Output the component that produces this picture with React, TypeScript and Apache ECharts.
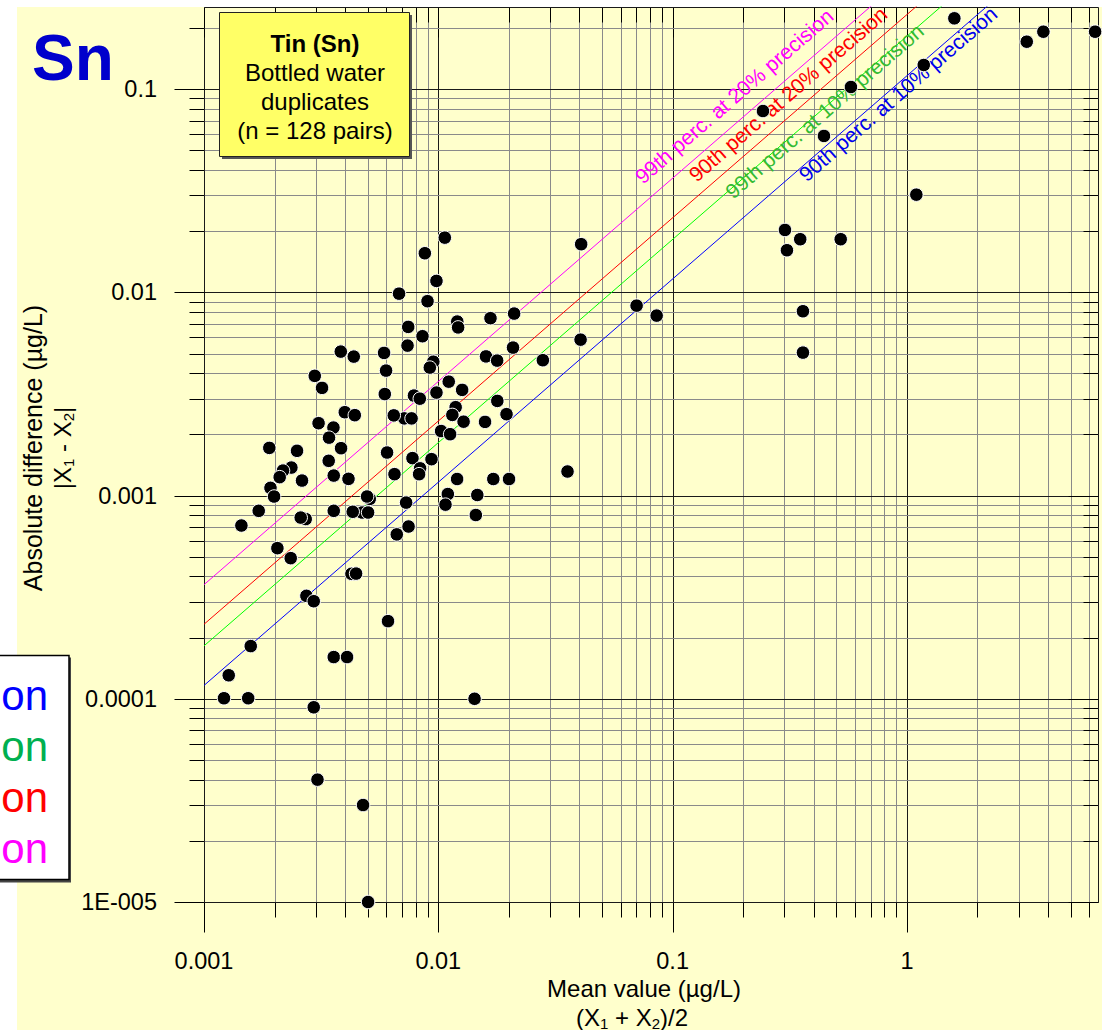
import React, { useEffect, useRef } from 'react';
import * as echarts from 'echarts';

// ---- data (mean value, absolute difference) ----
const meanValues = [
  0.243, 0.577, 0.4426, 1.18, 1.594, 1.097, 3.247, 3.823, 6.357, 0.04071,
  0.0702, 0.0855, 0.04048, 0.0356, 0.3017, 0.3505, 0.3076, 0.5217, 0.36, 0.36,
  0.02794,
  0.01066, 0.00876, 0.00982, 0.0068, 0.008995, 0.02107, 0.0167, 0.01205, 0.01215, 0.00744,
  0.00856, 0.00739, 0.02084, 0.01598, 0.01783, 0.009522, 0.0092, 0.01108, 0.01264, 0.007873,
  0.008337, 0.00982, 0.01786, 0.01186, 0.01148, 0.01282, 0.01955, 0.01583, 0.007159, 0.00769,
  0.01028, 0.01123, 0.007758, 0.009354, 0.008362, 0.00828, 0.01203, 0.01717, 0.02004, 0.01098,
  0.01467, 0.00729, 0.01073, 0.01446, 0.007465, 0.006649,
  0.003835, 0.004357, 0.005869, 0.005985, 0.00297, 0.00319, 0.00591, 0.006457, 0.003989, 0.004401,
  0.003083, 0.003568, 0.003417, 0.003846, 0.0019, 0.002495, 0.006044, 0.006501, 0.004137, 0.00262,
  0.00236, 0.002174, 0.002104, 0.003579, 0.003406, 0.005098, 0.004966, 0.004727, 0.005015, 0.004313,
  0.003579, 0.002717, 0.002587, 0.001922, 0.001991, 0.001712, 0.001444, 0.002057, 0.002345, 0.004259,
  0.004457, 0.002736, 0.00294, 0.0061, 0.001583, 0.001275, 0.001217, 0.001544, 0.01428, 0.00294,
  0.003579, 0.004079, 0.00305, 0.004774, 0.005015,
];
const absDifferences = [
  0.078, 0.1024, 0.0588, 0.1314, 0.223, 0.03024, 0.1711, 0.1916, 0.1916, 0.01725,
  0.0086, 0.00768, 0.00585, 0.001313, 0.02027, 0.01825, 0.01611, 0.01825, 0.00807, 0.00505,
  0.004634,
  0.01858, 0.01557, 0.01138, 0.00985, 0.009043, 0.00786, 0.00746, 0.00718, 0.00672, 0.00676,
  0.00608, 0.005467, 0.005346, 0.004838, 0.004613, 0.004556, 0.004262, 0.003634, 0.003311, 0.003104,
  0.002997, 0.003211, 0.002922, 0.002721, 0.002493, 0.002309, 0.002514, 0.002304, 0.002397, 0.002397,
  0.002077, 0.002004, 0.001528, 0.00151, 0.001361, 0.001274, 0.001206, 0.001206, 0.001206, 0.001017,
  0.001006, 0.000923, 0.000902, 0.000802, 0.000704, 0.000644,
  0.005108, 0.004827, 0.005033, 0.004119, 0.003881, 0.003387, 0.003157, 0.00248, 0.002571, 0.002486,
  0.00227, 0.00216, 0.001927, 0.00171, 0.001716, 0.00166, 0.001628, 0.001274, 0.001208, 0.001185,
  0.001373, 0.001327, 0.001232, 0.001254, 0.001482, 0.000963, 0.000989, 0.000825, 0.000825, 0.000832,
  0.000841, 0.000766, 0.000779, 0.001091, 0.000989, 0.000841, 0.000712, 0.000551, 0.000492, 0.000412,
  0.000413, 0.000321, 0.000302, 0.000241, 0.0001816, 0.0001305, 0.0001006, 0.0001006, 0.0001, 0.0000908,
  0.0001604, 0.0001604, 0.00004, 0.00003, 0.00001,
];

// precision reference lines |X1-X2| = coef * mean
const precisionNames = [
  '90th perc. at 10% precision',
  '99th perc. at 10% precision',
  '90th perc. at 20% precision',
  '99th perc. at 20% precision',
];
const precisionCoef = [0.1163, 0.1821, 0.2326, 0.3643];
const lineXRange = [0.001, 10];
const lineColors = ['#0000FF', '#00FF00', '#FF0000', '#FF00FF'];
const labelColors = ['#0000EE', '#33BB33', '#FF0000', '#FF00FF'];
// where each rotated label starts (x value on its line) and its vertical pixel shift
const labelStartX = [0.3734, 0.1814, 0.1266, 0.0747];
const labelShiftY = [20, 13, -14, -19];

const legendTexts = ['on', 'on', 'on', 'on'];
const legendColors = ['#0000FF', '#00B050', '#FF0000', '#FF00FF'];

const infoLines = ['Tin (Sn)', 'Bottled water', 'duplicates', '(n = 128 pairs)'];

const X_MIN = 0.001;
const X_MAX = 6.54;
const Y_MIN = 1e-5;
const Y_MAX = 0.2535;
const xDecades = [0.001, 0.01, 0.1, 1];
const yDecades = [1e-5, 1e-4, 1e-3, 1e-2, 1e-1];
const multipliers = [1, 2, 3, 4, 5, 6, 7, 8, 9];
const xTickText: Record<string, string> = { '-3': '0.001', '-2': '0.01', '-1': '0.1', '0': '1' };
const yTickText: Record<string, string> = { '-5': '1E-005', '-4': '0.0001', '-3': '0.001', '-2': '0.01', '-1': '0.1' };

const FONT = 'Arial, "Liberation Sans", Helvetica, sans-serif';
const MAJOR = '#1a1a1a';
const MINOR = '#8a8a8a';

function gridValues(decades: number[], max: number) {
  const out: number[][] = [];
  decades.forEach((d) => {
    multipliers.forEach((m) => {
      const v = +(d * m).toPrecision(6);
      if (v <= max * 1.0001) out.push([v, m === 1 ? 1 : 0]);
    });
  });
  return out;
}

function decadeLabel(map: Record<string, string>) {
  return (v: number) => {
    const e = Math.log10(v);
    const r = Math.round(e);
    if (Math.abs(e - r) > 1e-6) return '';
    return map[String(r)] ?? '';
  };
}

export default function App() {
  const ref = useRef<HTMLDivElement>(null);

  useEffect(() => {
    if (!ref.current) return;
    const chart = echarts.init(ref.current, null, { renderer: 'svg' });

    const xGrid = gridValues(xDecades, X_MAX).map(([v, m]) => [v, Y_MIN, m]);
    xGrid.push([X_MAX, Y_MIN, 2]);
    const yGrid = gridValues(yDecades, Y_MAX).map(([v, m]) => [X_MIN, v, m]);
    yGrid.push([X_MIN, Y_MAX, 2]);

    const vLine = (params: any, api: any) => {
      const v = api.value(0);
      const kind = api.value(2);
      const pT = api.coord([v, Y_MAX]);
      const pB = api.coord([v, Y_MIN]);
      const x = Math.round(pT[0]) + 0.5;
      const yT = Math.round(pT[1]) + 0.5;
      const yB = Math.round(pB[1]) + 0.5;
      const children: any[] = [
        { type: 'line', shape: { x1: x, y1: yT, x2: x, y2: yB }, style: { stroke: kind === 0 ? MINOR : MAJOR, lineWidth: 1 } },
      ];
      if (kind !== 2) {
        const len = kind === 1 ? 30 : 15;
        children.push({ type: 'line', shape: { x1: x, y1: yB, x2: x, y2: yB + len }, style: { stroke: '#000', lineWidth: 1 } });
        children.push({ type: 'line', shape: { x1: x, y1: yT, x2: x, y2: yT + len }, style: { stroke: '#000', lineWidth: 1 } });
      }
      return { type: 'group', children };
    };
    const hLine = (params: any, api: any) => {
      const v = api.value(1);
      const kind = api.value(2);
      const pL = api.coord([X_MIN, v]);
      const pR = api.coord([X_MAX, v]);
      const y = Math.round(pL[1]) + 0.5;
      const xL = Math.round(pL[0]) + 0.5;
      const xR = Math.round(pR[0]) + 0.5;
      const children: any[] = [
        { type: 'line', shape: { x1: xL, y1: y, x2: xR, y2: y }, style: { stroke: kind === 0 ? MINOR : MAJOR, lineWidth: 1 } },
      ];
      if (kind !== 2) {
        const len = kind === 1 ? 30 : 15;
        children.push({ type: 'line', shape: { x1: xL - len, y1: y, x2: xL, y2: y }, style: { stroke: '#000', lineWidth: 1 } });
        children.push({ type: 'line', shape: { x1: xR - len, y1: y, x2: xR, y2: y }, style: { stroke: '#000', lineWidth: 1 } });
      }
      return { type: 'group', children };
    };

    const series: any[] = [
      {
        type: 'custom', name: 'vgrid', coordinateSystem: 'cartesian2d', renderItem: vLine,
        data: xGrid, encode: { x: 0, y: 1 }, clip: false, silent: true, z: 1,
      },
      {
        type: 'custom', name: 'hgrid', coordinateSystem: 'cartesian2d', renderItem: hLine,
        data: yGrid, encode: { x: 0, y: 1 }, clip: false, silent: true, z: 1,
      },
    ];
    precisionCoef.forEach((k, i) => {
      series.push({
        type: 'line',
        name: precisionNames[i],
        data: lineXRange.map((x) => [x, x * k]),
        symbol: 'none',
        clip: true,
        lineStyle: { color: lineColors[i], width: 1 },
        z: 3,
        silent: true,
      });
    });
    series.push({
      type: 'scatter',
      name: 'duplicates',
      data: meanValues.map((x, i) => [x, absDifferences[i]]),
      symbol: 'circle',
      symbolSize: 13.5,
      clip: false,
      itemStyle: { color: '#000', borderColor: '#fff', borderWidth: 1, opacity: 1 },
      z: 5,
    });

    chart.setOption({
      animation: false,
      backgroundColor: '#ffffff',
      grid: { left: 204, top: 7, width: 894, height: 895, containLabel: false },
      xAxis: {
        type: 'log', logBase: 10, min: X_MIN, max: X_MAX,
        axisLine: { show: false }, axisTick: { show: false }, splitLine: { show: false },
        axisLabel: {
          formatter: decadeLabel(xTickText), fontSize: 23.5, fontFamily: FONT, color: '#000',
          margin: 47, lineHeight: 24, showMaxLabel: false,
        },
      },
      yAxis: {
        type: 'log', logBase: 10, min: Y_MIN, max: Y_MAX,
        axisLine: { show: false }, axisTick: { show: false }, splitLine: { show: false },
        axisLabel: {
          formatter: decadeLabel(yTickText), fontSize: 23.5, fontFamily: FONT, color: '#000',
          margin: 47, showMaxLabel: false,
        },
      },
      series,
    });

    // rotated labels of the precision lines, placed through the chart's own scale
    const p0 = chart.convertToPixel({ gridIndex: 0 }, [0.01, 0.01]) as number[];
    const p1 = chart.convertToPixel({ gridIndex: 0 }, [0.1, 0.1]) as number[];
    const theta = Math.atan2(p0[1] - p1[1], p1[0] - p0[0]);
    const fsLab = 21;
    const labelGraphics = precisionCoef.map((k, i) => {
      const xv = labelStartX[i];
      const p = chart.convertToPixel({ gridIndex: 0 }, [xv, xv * k]) as number[];
      const bx = p[0];
      const by = p[1] + labelShiftY[i];
      return {
        type: 'text',
        x: bx - 0.35 * fsLab * Math.sin(theta),
        y: by - 0.35 * fsLab * Math.cos(theta),
        rotation: theta,
        z: 4,
        silent: true,
        style: {
          text: precisionNames[i], fontSize: fsLab, fontFamily: FONT, fill: labelColors[i],
          align: 'left', verticalAlign: 'middle',
        },
      };
    });

    const infoGraphics: any[] = [
      { type: 'rect', z: 20, shape: { x: 222, y: 15, width: 190, height: 144 }, style: { fill: '#555' } },
      { type: 'rect', z: 21, shape: { x: 219.5, y: 12.5, width: 190, height: 144 }, style: { fill: '#FFFF66', stroke: '#222', lineWidth: 1 } },
      ...infoLines.map((t, i) => ({
        type: 'text', z: 22, x: 315, y: 43 + i * 29,
        style: {
          text: t, fontSize: 24, fontFamily: FONT, fontWeight: i === 0 ? 'bold' : 'normal',
          fill: '#000', align: 'center', verticalAlign: 'middle',
        },
      })),
    ];

    const legendGraphics: any[] = [
      { type: 'rect', z: 20, shape: { x: -10, y: 657.5, width: 81, height: 225 }, style: { fill: '#444' } },
      { type: 'rect', z: 21, shape: { x: -10, y: 655.5, width: 79, height: 224 }, style: { fill: '#fff', stroke: '#000', lineWidth: 1.5 } },
      ...legendTexts.map((t, i) => ({
        type: 'text', z: 22, x: 48, y: 695 + i * 51,
        style: { text: t, fontSize: 42, fontFamily: FONT, fill: legendColors[i], align: 'right', verticalAlign: 'middle' },
      })),
    ];

    const subRich = { s: { fontSize: 15, fontFamily: FONT, fill: '#000', padding: [12, 0, 0, 0] } };

    chart.setOption({
      graphic: [
        { type: 'rect', z: -1, silent: true, shape: { x: 17, y: 7, width: 1085, height: 1023 }, style: { fill: '#FFFFCC' } },
        {
          type: 'text', z: 22, x: 32, y: 58,
          style: { text: 'Sn', fontSize: 64, fontWeight: 'bold', fontFamily: FONT, fill: '#0000CC', align: 'left', verticalAlign: 'middle' },
        },
        ...infoGraphics,
        ...legendGraphics,
        ...labelGraphics,
        {
          type: 'text', z: 22, x: 644, y: 988,
          style: { text: 'Mean value (µg/L)', fontSize: 24, fontFamily: FONT, fill: '#000', align: 'center', verticalAlign: 'middle' },
        },
        {
          type: 'text', z: 22, x: 632, y: 1017,
          style: {
            text: '(X{s|1} + X{s|2})/2', fontSize: 24, fontFamily: FONT, fill: '#000',
            align: 'center', verticalAlign: 'middle', rich: subRich,
          },
        },
        {
          type: 'text', z: 22, x: 33, y: 448, rotation: Math.PI / 2,
          style: { text: 'Absolute difference (µg/L)', fontSize: 25, fontFamily: FONT, fill: '#000', align: 'center', verticalAlign: 'middle' },
        },
        {
          type: 'text', z: 22, x: 62, y: 448, rotation: Math.PI / 2,
          style: {
            text: '|X{s|1} - X{s|2}|', fontSize: 24, fontFamily: FONT, fill: '#000',
            align: 'center', verticalAlign: 'middle', rich: subRich,
          },
        },
      ],
    });

    return () => {
      chart.dispose();
    };
  }, []);

  return (
    <div
      ref={ref}
      style={{ position: 'absolute', left: 0, top: 0, width: 1102, height: 1030 }}
    />
  );
}
